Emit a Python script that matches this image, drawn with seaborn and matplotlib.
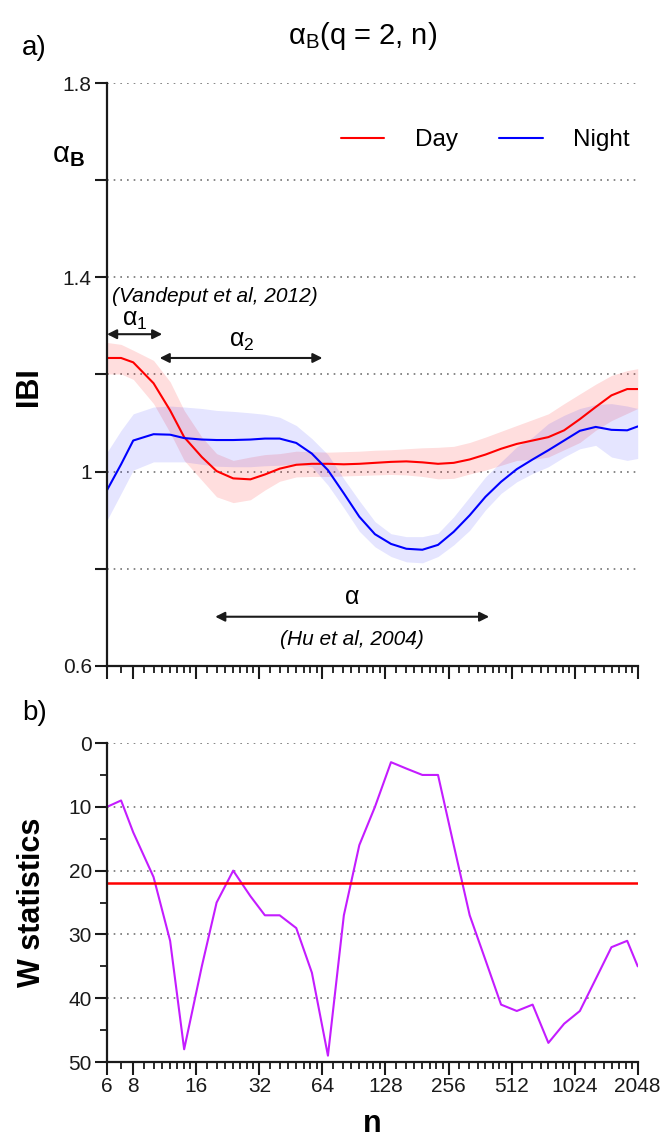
import matplotlib
matplotlib.use("Agg")
import matplotlib.pyplot as plt
from matplotlib.ticker import FixedLocator, FixedFormatter, NullFormatter
import numpy as np
import pandas as pd
import seaborn as sns

# --- data ---
n_scale = [6, 7, 8, 10, 12, 14, 17, 20, 24, 29, 34, 40, 48, 57, 68, 81, 96, 114,
           136, 161, 192, 228, 271, 323, 384, 456, 542, 645, 767, 912, 1084,
           1290, 1534, 1824, 2048]

day_mean = [1.234, 1.234, 1.225, 1.182, 1.126, 1.071, 1.030, 1.001, 0.986, 0.984,
            0.994, 1.006, 1.014, 1.016, 1.016, 1.015, 1.016, 1.018, 1.020, 1.021,
            1.019, 1.016, 1.018, 1.025, 1.035, 1.047, 1.057, 1.064, 1.071, 1.085,
            1.108, 1.133, 1.157, 1.170, 1.170]
day_upper = [1.266, 1.262, 1.250, 1.229, 1.185, 1.126, 1.071, 1.037, 1.023, 1.030,
             1.035, 1.037, 1.042, 1.041, 1.040, 1.041, 1.042, 1.044, 1.045, 1.047,
             1.049, 1.050, 1.052, 1.060, 1.071, 1.083, 1.095, 1.107, 1.119, 1.140,
             1.160, 1.180, 1.198, 1.208, 1.212]
day_lower = [1.201, 1.201, 1.190, 1.140, 1.080, 1.023, 0.982, 0.948, 0.936, 0.942,
             0.962, 0.980, 0.989, 0.990, 0.990, 0.991, 0.992, 0.993, 0.994, 0.993,
             0.990, 0.985, 0.986, 0.995, 1.003, 1.013, 1.023, 1.025, 1.030, 1.045,
             1.060, 1.085, 1.105, 1.120, 1.130]

night_mean = [0.962, 1.015, 1.064, 1.077, 1.076, 1.069, 1.066, 1.065, 1.065, 1.066,
              1.068, 1.068, 1.059, 1.037, 1.003, 0.955, 0.907, 0.871, 0.851, 0.841,
              0.839, 0.849, 0.876, 0.910, 0.948, 0.979, 1.005, 1.025, 1.044, 1.064,
              1.084, 1.092, 1.086, 1.085, 1.093]
night_upper = [1.040, 1.085, 1.119, 1.133, 1.135, 1.133, 1.130, 1.126, 1.124, 1.121,
               1.118, 1.112, 1.095, 1.068, 1.035, 0.985, 0.940, 0.897, 0.872, 0.866,
               0.866, 0.873, 0.907, 0.948, 0.989, 1.020, 1.051, 1.071, 1.099, 1.116,
               1.130, 1.138, 1.140, 1.135, 1.130]
night_lower = [0.900, 0.955, 1.003, 1.020, 1.020, 1.020, 1.015, 1.011, 1.010, 1.010,
               1.012, 1.013, 1.016, 1.010, 0.972, 0.925, 0.877, 0.845, 0.825, 0.814,
               0.812, 0.825, 0.849, 0.879, 0.921, 0.955, 0.979, 0.996, 1.010, 1.030,
               1.047, 1.054, 1.030, 1.023, 1.027]

w_stat = [10, 9, 14, 21, 31, 48, 35, 25, 20, 24, 27, 27, 29, 36, 49, 27, 16, 10,
          3, 4, 5, 5, 16, 27, 34, 41, 42, 41, 47, 44, 42, 37, 32, 31, 35]
w_crit = 22

x_major = [6, 8, 16, 32, 64, 128, 256, 512, 1024, 2048]

# --- style ---
sns.set_theme(style="ticks")
plt.rcParams["font.family"] = ["Liberation Sans", "DejaVu Sans"]
plt.rcParams["mathtext.fontset"] = "custom"
plt.rcParams["mathtext.rm"] = "Liberation Sans"
plt.rcParams["mathtext.it"] = "Liberation Sans:italic"
plt.rcParams["mathtext.bf"] = "Liberation Sans:bold"
for key in ("text.color", "axes.labelcolor", "xtick.color", "ytick.color"):
    plt.rcParams[key] = "black"

fig = plt.figure(figsize=(6.65, 11.4), dpi=100)
ax1 = fig.add_axes([0.161, 0.416, 0.798, 0.511])
ax2 = fig.add_axes([0.161, 0.0684, 0.798, 0.2798])

# === top panel ===
df_top = pd.DataFrame({
    "n": n_scale * 2,
    "IBI": day_mean + night_mean,
    "cond": ["Day"] * len(n_scale) + ["Night"] * len(n_scale),
})
pal = {"Day": "#ff0000", "Night": "#0000ff"}
ax1.fill_between(n_scale, day_lower, day_upper, color=pal["Day"], alpha=0.13, lw=0)
ax1.fill_between(n_scale, night_lower, night_upper, color=pal["Night"], alpha=0.10, lw=0)
sns.lineplot(data=df_top, x="n", y="IBI", hue="cond", palette=pal, lw=1.5, ax=ax1)

# === bottom panel ===
sns.lineplot(x=n_scale, y=w_stat, color="#c41cff", lw=1.5, ax=ax2)
ax2.axhline(w_crit, color="#ff0000", lw=1.8)

# minor x ticks: 7, then 8 per octave
x_minor = [7]
for b in x_major[1:-1]:
    x_minor += [b * (1 + j / 8) for j in range(1, 8)]

for ax in (ax1, ax2):
    ax.set_xscale("log", base=2)
    ax.set_xlim(6, 2048)
    ax.xaxis.set_major_locator(FixedLocator(x_major))
    ax.xaxis.set_minor_locator(FixedLocator(x_minor))
    ax.xaxis.set_minor_formatter(NullFormatter())
    ax.grid(axis="y", ls=(0, (1, 3)), color="0.45", lw=1.2)
    ax.grid(axis="x", visible=False)
    for s in ("left", "bottom"):
        ax.spines[s].set_linewidth(1.6)
        ax.spines[s].set_color("k")
    ax.tick_params(which="major", length=9, width=1.5, color="k", pad=2,
                   labelsize=15, labelcolor="k")
    ax.tick_params(which="minor", length=5, width=1.3, color="k")
sns.despine(fig=fig)

ax1.set_ylim(0.6, 1.8)
ax1.yaxis.set_major_locator(FixedLocator([0.6, 0.8, 1.0, 1.2, 1.4, 1.6, 1.8]))
ax1.yaxis.set_major_formatter(FixedFormatter(["0.6", "", "1", "", "1.4", "", "1.8"]))
ax1.xaxis.set_major_formatter(NullFormatter())
ax1.set_xlabel("")
ax1.set_ylabel("IBI", fontsize=22, fontweight="bold")
ax1.yaxis.set_label_coords(-0.118, 0.48)

ax2.set_ylim(50, 0)
ax2.yaxis.set_major_locator(FixedLocator([0, 10, 20, 30, 40, 50]))
ax2.yaxis.set_minor_locator(FixedLocator([5, 15, 25, 35, 45]))
ax2.xaxis.set_major_formatter(FixedFormatter([str(v) for v in x_major]))
ax2.set_xlabel("n", fontsize=22, fontweight="bold", labelpad=9)
ax2.set_ylabel("W statistics", fontsize=22, fontweight="bold")
ax2.yaxis.set_label_coords(-0.113, 0.5)

# legend
handles, labels = ax1.get_legend_handles_labels()
ax1.legend(handles, labels, loc="center right", bbox_to_anchor=(0.985, 0.902),
           ncol=2, frameon=False, fontsize=17.5, handlelength=1.8,
           handletextpad=1.25, columnspacing=1.7, borderaxespad=0, borderpad=0)

# scale-range annotations
arrow = dict(arrowstyle="<|-|>", color="k", lw=1.5, mutation_scale=14,
             shrinkA=0, shrinkB=0)
ax1.annotate("", xy=(11, 1.283), xytext=(6, 1.283), arrowprops=arrow)
ax1.annotate("", xy=(64, 1.234), xytext=(10.7, 1.234), arrowprops=arrow)
ax1.annotate("", xy=(400, 0.701), xytext=(19.7, 0.701), arrowprops=arrow)
ax1.text(6.3, 1.36, "(Vandeput et al, 2012)", fontsize=15, style="italic",
         ha="left", va="center")
ax1.text(8.1, 1.312, r"α$_1$", fontsize=18, ha="center", va="center")
ax1.text(26.5, 1.268, r"α$_2$", fontsize=18, ha="center", va="center")
ax1.text(89, 0.742, "α", fontsize=18, ha="center", va="center")
ax1.text(89, 0.655, "(Hu et al, 2004)", fontsize=15, style="italic",
         ha="center", va="center")

# figure texts
fig.text(0.546, 0.968, r"α$_\mathrm{B}$(q = 2, n)", fontsize=21, ha="center", va="center")
fig.text(0.033, 0.958, "a)", fontsize=20, ha="left", va="center")
fig.text(0.033, 0.375, "b)", fontsize=20, ha="left", va="center")
fig.text(68 / 665, 1 - 155 / 1140, r"α$_\mathbf{B}$", fontsize=21, ha="center", va="center")

fig.savefig("out.png", dpi=100)
